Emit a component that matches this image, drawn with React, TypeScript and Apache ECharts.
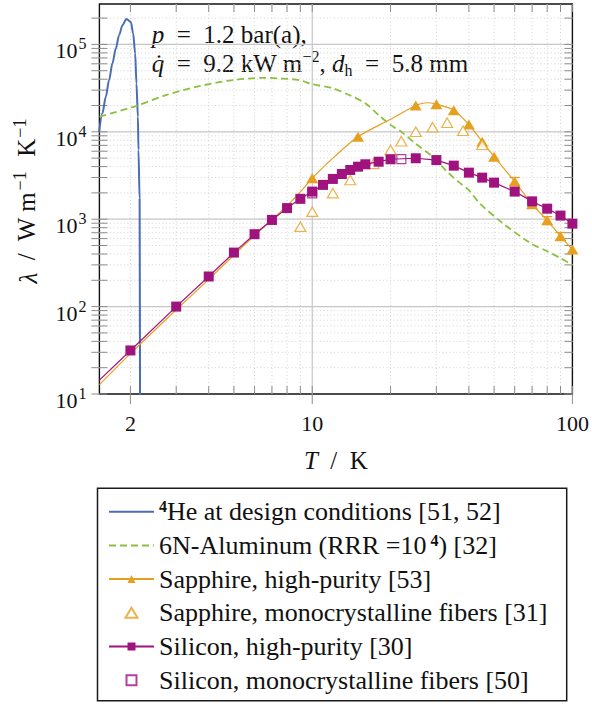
import React, { useEffect, useRef } from 'react';
import * as echarts from 'echarts';

const SERIF = 'Liberation Serif';

// Axis extents
const X_MIN = 1.52;
const X_MAX = 100;
const Y_MIN = 10;
const Y_MAX = 2.9e5;

// Tick / grid values
const xLabelTicks = [2, 10, 100];
const xMinorTicks = [3, 4, 5, 6, 7, 8, 9, 20, 30, 40, 50, 60, 70, 80, 90];
const xMajorGrid = [10];
const xMinorGrid = [2, 3, 4, 5, 6, 7, 8, 9, 20, 30, 40, 50, 60, 70, 80, 90];
const yMajor = [10, 100, 1000, 10000, 100000];
const yMinor = [
  20, 30, 40, 50, 60, 70, 80, 90,
  200, 300, 400, 500, 600, 700, 800, 900,
  2000, 3000, 4000, 5000, 6000, 7000, 8000, 9000,
  20000, 30000, 40000, 50000, 60000, 70000, 80000, 90000,
  200000,
];

// 4He at design conditions
const heT = [1.517, 1.561, 1.609, 1.656, 1.706, 1.758, 1.81, 1.864, 1.931, 2.008, 2.049, 2.086, 2.11, 2.137, 2.148, 2.17, 2.18];
const heK = [1.0e4, 1.63e4, 2.52e4, 3.91e4, 6.07e4, 9.0e4, 1.28e5, 1.66e5, 1.95e5, 1.81e5, 1.34e5, 7.9e4, 3.58e4, 1.49e4, 6.2e3, 1.7e3, 1];

// 6N aluminium
const alT = [1.52, 2.1, 2.74, 3.68, 4.94, 6.65, 7.48, 8.93, 10, 12, 14, 16, 18, 20, 22, 25, 29, 33, 36.4, 40, 44, 54, 69, 80, 90, 100];
const alK = [1.49e4, 1.97e4, 2.63e4, 3.33e4, 3.91e4, 4.15e4, 4.08e4, 3.9e4, 3.5e4, 3.15e4, 2.6e4, 2.12e4, 1.55e4, 1.2e4, 1.0e4, 7.3e3, 5.2e3, 3.5e3, 2.69e3, 2.15e3, 1.52e3, 900, 532, 430, 358, 300];

// Sapphire high purity: fit curve points (no marker) and measured points (marker)
const sapphireFitT = [1.52, 2, 3, 4, 5, 6, 7, 8, 9, 12, 20, 27.5];
const sapphireFitK = [12.8, 29, 92, 205, 390, 650, 990, 1420, 2050, 5000, 1.39e4, 2.15e4];
const sapphireT = [10, 15, 25, 30, 35, 40, 45, 50, 60, 70, 80, 90, 100];
const sapphireK = [2950, 8800, 2.0e4, 2.07e4, 1.77e4, 1.21e4, 7.7e3, 5.2e3, 2.7e3, 1.48e3, 970, 640, 450];

// Sapphire error bars
const sapphireErrT = [60, 70, 80, 90];
const sapphireErrLo = [2450, 1330, 870, 575];
const sapphireErrHi = [3000, 1630, 1070, 705];

// Sapphire monocrystalline fibers
const sapphireFibT = [9, 10, 12, 14, 17.2, 20, 22, 25, 29, 33, 38, 45];
const sapphireFibK = [822, 1220, 1990, 2810, 4300, 6200, 7800, 1.0e4, 1.13e4, 1.27e4, 1.03e4, 7.1e3];

// Silicon high purity
const siliconFitT = [1.52];
const siliconFitK = [14.4];
const siliconT = [2, 3, 4, 5, 6, 7, 8, 9, 10, 11, 12, 13, 14, 15, 16, 18, 20, 25, 30, 35, 40, 45, 50, 60, 70, 80, 90, 100];
const siliconK = [31.5, 100, 221, 415, 674, 981, 1340, 1710, 2070, 2470, 2890, 3290, 3660, 3990, 4250, 4550, 4850, 4980, 4750, 4100, 3410, 2990, 2620, 2070, 1600, 1320, 1100, 890];

// Silicon monocrystalline fibers
const siliconFibT = [10, 22];
const siliconFibK = [1980, 4870];

const BLUE = '#4a6db3';
const GREEN = '#8dc040';
const ORANGE = '#e6a020';
const MAGENTA = '#a0127e';

const LEGEND_LABELS: Record<string, string> = {
  He4: '{sup|4}He at design conditions [51, 52]',
  Al6N: '6N-Aluminum (RRR =10{sup| 4}) [32]',
  SapphireHP: 'Sapphire, high-purity [53]',
  SapphireFib: 'Sapphire, monocrystalline fibers [31]',
  SiliconHP: 'Silicon, high-purity [30]',
  SiliconFib: 'Silicon, monocrystalline fibers [50]',
};

const TRI_ICON = 'path://M6,0 L12,10 L0,10 Z';
const SQ_ICON = 'path://M0,0 L10,0 L10,10 L0,10 Z';

const FS = 25;
const LFS = 26;
const SUP_FS = 18;

// y-axis title pieces
const Y_TITLE_SYM = 'λ';
const Y_TITLE_MID = '  /  W m';
const Y_TITLE_K = '  K';
const Y_TITLE_EXP = '−1';

const pairs = (a: number[], b: number[]) => a.map((t, i) => [t, b[i]]);

function withMarkers(fitT: number[], fitK: number[], t: number[], k: number[]) {
  const d: any[] = [
    ...fitT.map((x, i) => ({ value: [x, fitK[i]], symbol: 'none' })),
    ...t.map((x, i) => ({ value: [x, k[i]] })),
  ];
  d.sort((a, b) => a.value[0] - b.value[0]);
  return d;
}

function measure(txt: string, font: string) {
  const c = document.createElement('canvas').getContext('2d');
  if (!c) return txt.length * 10;
  c.font = font;
  return c.measureText(txt).width;
}

export default function App() {
  const ref = useRef<HTMLDivElement>(null);
  useEffect(() => {
    const chart = echarts.init(ref.current as HTMLDivElement, null, { renderer: 'svg' });

    const minorGrid = { stroke: '#d2d2d2', lineWidth: 1, lineDash: [1, 2.5] };
    const majorGrid = { stroke: '#c6c6c6', lineWidth: 1.2 };
    const tickStyle = { stroke: '#8c8c8c', lineWidth: 1 };

    const fam = `"${SERIF}"`;
    const supPad = 3;
    const yTitleWidth =
      measure(Y_TITLE_SYM, `italic ${FS}px ${fam}`) +
      measure(Y_TITLE_MID, `${FS}px ${fam}`) +
      measure(Y_TITLE_K, `${FS}px ${fam}`) +
      2 * (measure(Y_TITLE_EXP, `${SUP_FS}px ${fam}`) + supPad);

    const decorations = {
      type: 'custom',
      coordinateSystem: 'cartesian2d',
      silent: true,
      z: 1,
      data: [[10, 100]],
      renderItem: (params: any, api: any) => {
        const cs = params.coordSys;
        const x0 = cs.x, x1 = cs.x + cs.width, y0 = cs.y, y1 = cs.y + cs.height;
        const children: any[] = [];
        const ln = (xa: number, ya: number, xb: number, yb: number, style: any) =>
          children.push({ type: 'line', shape: { x1: xa, y1: ya, x2: xb, y2: yb }, style });
        xMinorGrid.forEach((v) => { const p = api.coord([v, Y_MIN])[0]; ln(p, y0, p, y1, minorGrid); });
        xMajorGrid.forEach((v) => { const p = api.coord([v, Y_MIN])[0]; ln(p, y0, p, y1, majorGrid); });
        yMinor.forEach((v) => { const p = api.coord([X_MIN, v])[1]; ln(x0, p, x1, p, minorGrid); });
        yMajor.forEach((v) => { if (v > Y_MIN) { const p = api.coord([X_MIN, v])[1]; ln(x0, p, x1, p, majorGrid); } });
        xMinorTicks.forEach((v) => {
          const p = api.coord([v, Y_MIN])[0];
          ln(p, y1, p, y1 - 8, tickStyle);
          ln(p, y0, p, y0 + 8, tickStyle);
        });
        xLabelTicks.forEach((v) => {
          const p = api.coord([v, Y_MIN])[0];
          ln(p, y1 - 8, p, y1 + 10, tickStyle);
          ln(p, y0, p, y0 + 8, tickStyle);
        });
        [...yMinor, ...yMajor].forEach((v) => {
          const p = api.coord([X_MIN, v])[1];
          ln(x0 - 8, p, x0 + 8, p, tickStyle);
          ln(x1 - 8, p, x1, p, tickStyle);
        });
        return { type: 'group', children };
      },
    };

    const errorBars = {
      type: 'custom',
      coordinateSystem: 'cartesian2d',
      silent: true,
      z: 3,
      data: sapphireErrT.map((t, i) => [t, sapphireErrLo[i], sapphireErrHi[i]]),
      encode: { x: 0, y: [1, 2] },
      renderItem: (params: any, api: any) => {
        const lo = api.coord([api.value(0), api.value(1)]);
        const hi = api.coord([api.value(0), api.value(2)]);
        const st = { stroke: ORANGE, lineWidth: 1.3 };
        return {
          type: 'group',
          children: [
            { type: 'line', shape: { x1: lo[0], y1: lo[1], x2: hi[0], y2: hi[1] }, style: st },
            { type: 'line', shape: { x1: lo[0] - 5, y1: lo[1], x2: lo[0] + 5, y2: lo[1] }, style: st },
            { type: 'line', shape: { x1: hi[0] - 5, y1: hi[1], x2: hi[0] + 5, y2: hi[1] }, style: st },
          ],
        };
      },
    };

    const option: any = {
      animation: false,
      backgroundColor: '#fff',
      textStyle: { fontFamily: SERIF },
      grid: {
        left: 99.4,
        top: 4,
        width: 473,
        height: 390,
        show: true,
        borderColor: '#111',
        borderWidth: 1.4,
        backgroundColor: 'transparent',
        containLabel: false,
        outerBoundsMode: 'none',
      },
      xAxis: {
        type: 'log',
        logBase: 10,
        min: X_MIN,
        max: X_MAX,
        axisLine: { show: false },
        axisTick: { show: false },
        splitLine: { show: false },
        minorTick: { show: false },
        axisLabel: {
          customValues: xLabelTicks,
          margin: 18,
          fontFamily: SERIF,
          fontSize: 22,
          color: '#111',
          formatter: (v: number) => String(Math.round(v)),
        },
        name: '{i|T}  /  K',
        nameLocation: 'middle',
        nameGap: 54,
        nameTextStyle: {
          fontFamily: SERIF,
          fontSize: FS,
          color: '#111',
          rich: { i: { fontFamily: SERIF, fontSize: FS, fontStyle: 'italic', color: '#111' } },
        },
      },
      yAxis: {
        type: 'log',
        logBase: 10,
        min: Y_MIN,
        max: Y_MAX,
        axisLine: { show: false },
        axisTick: { show: false },
        splitLine: { show: false },
        minorTick: { show: false },
        axisLabel: {
          customValues: yMajor,
          margin: 13,
          fontFamily: SERIF,
          formatter: (v: number) => `{b|10}{s|${Math.round(Math.log10(v))}}`,
          rich: {
            b: { fontFamily: SERIF, fontSize: 22, color: '#111', lineHeight: 26, verticalAlign: 'bottom' },
            s: { fontFamily: SERIF, fontSize: 16, color: '#111', lineHeight: 16, verticalAlign: 'top', padding: [0, 0, 0, 1] },
          },
          padding: [9, 0, 0, 0],
        },
      },
      legend: {
        orient: 'vertical',
        left: 97.5,
        top: 488.3,
        padding: [10.4, 0, 7.7, 10.5],
        borderWidth: 0,
        itemWidth: 45,
        itemHeight: 10,
        itemGap: 7.7,
        selectedMode: false,
        data: [
          { name: 'He4', itemStyle: { opacity: 0 } },
          { name: 'Al6N', itemStyle: { opacity: 0 } },
          { name: 'SapphireHP' },
          { name: 'SapphireFib', icon: TRI_ICON },
          { name: 'SiliconHP' },
          { name: 'SiliconFib', icon: SQ_ICON },
        ],
        formatter: (name: string) => LEGEND_LABELS[name],
        textStyle: {
          fontFamily: SERIF,
          fontSize: LFS,
          color: '#111',
          lineHeight: 26,
          rich: {
            sup: { fontFamily: SERIF, fontSize: 16, fontWeight: 'bold', verticalAlign: 'top', lineHeight: 26, color: '#111' },
          },
        },
      },
      graphic: [
        {
          type: 'rect',
          silent: true,
          shape: { x: 97.5, y: 488.3, width: 469.2, height: 212.4 },
          style: { fill: 'none', stroke: '#1a1a1a', lineWidth: 1.5 },
        },
        {
          type: 'text',
          x: 26,
          y: 200 + yTitleWidth / 2,
          rotation: Math.PI / 2,
          silent: true,
          style: {
            text: `{i|${Y_TITLE_SYM}}${Y_TITLE_MID}{s|${Y_TITLE_EXP}}${Y_TITLE_K}{s|${Y_TITLE_EXP}}`,
            fontFamily: SERIF,
            fontSize: FS,
            fill: '#111',
            align: 'left',
            verticalAlign: 'middle',
            rich: {
              i: { fontFamily: SERIF, fontSize: FS, fontStyle: 'italic', fill: '#111', lineHeight: 30, verticalAlign: 'bottom' },
              s: { fontFamily: SERIF, fontSize: SUP_FS, fill: '#111', lineHeight: 18, verticalAlign: 'top', padding: [0, 2, 0, 1] },
            },
          },
        },
        {
          type: 'text',
          x: 151.7,
          y: 34,
          silent: true,
          style: {
            text: '{i|p}  =  1.2 bar(a),',
            fontFamily: SERIF,
            fontSize: FS,
            fill: '#111',
            verticalAlign: 'middle',
            rich: { i: { fontFamily: SERIF, fontSize: FS, fontStyle: 'italic', fill: '#111' } },
          },
        },
        {
          type: 'text',
          x: 151.7,
          y: 63,
          silent: true,
          style: {
            text: '{i|q̇}  =  9.2 kW m{s|−2}, {i|d}{sub|h}  =  5.8 mm',
            fontFamily: SERIF,
            fontSize: FS,
            fill: '#111',
            verticalAlign: 'middle',
            rich: {
              i: { fontFamily: SERIF, fontSize: FS, fontStyle: 'italic', fill: '#111', lineHeight: 30, verticalAlign: 'middle' },
              s: { fontFamily: SERIF, fontSize: 16, fill: '#111', lineHeight: 16, verticalAlign: 'top' },
              sub: { fontFamily: SERIF, fontSize: 16, fill: '#111', lineHeight: 16, verticalAlign: 'bottom' },
            },
          },
        },
      ],
      series: [
        decorations,
        {
          name: 'He4',
          type: 'line',
          data: pairs(heT, heK),
          symbol: 'none',
          smooth: 0.3,
          smoothMonotone: 'x',
          clip: true,
          color: BLUE,
          lineStyle: { color: BLUE, width: 2 },
          z: 4,
        },
        {
          name: 'Al6N',
          type: 'line',
          data: pairs(alT, alK),
          symbol: 'none',
          smooth: 0.3,
          clip: true,
          color: GREEN,
          lineStyle: { color: GREEN, width: 1.8, type: [7, 4] },
          z: 4,
        },
        errorBars,
        {
          name: 'SapphireHP',
          type: 'line',
          data: withMarkers(sapphireFitT, sapphireFitK, sapphireT, sapphireK),
          symbol: 'triangle',
          symbolSize: [12, 10],
          smooth: 0.3,
          clip: true,
          color: ORANGE,
          itemStyle: { color: ORANGE },
          lineStyle: { color: ORANGE, width: 1.2 },
          z: 5,
        },
        {
          name: 'SapphireFib',
          type: 'scatter',
          data: pairs(sapphireFibT, sapphireFibK),
          symbol: 'triangle',
          symbolSize: [11, 9.5],
          color: ORANGE,
          itemStyle: { color: '#fff', borderColor: ORANGE, borderWidth: 1.2 },
          z: 5,
        },
        {
          name: 'SiliconHP',
          type: 'line',
          data: withMarkers(siliconFitT, siliconFitK, siliconT, siliconK),
          symbol: 'rect',
          symbolSize: 10,
          clip: true,
          color: MAGENTA,
          itemStyle: { color: MAGENTA },
          lineStyle: { color: MAGENTA, width: 1.2 },
          z: 6,
        },
        {
          name: 'SiliconFib',
          type: 'scatter',
          data: pairs(siliconFibT, siliconFibK),
          symbol: 'rect',
          symbolSize: 9,
          color: MAGENTA,
          itemStyle: { color: 'rgba(255,255,255,0)', borderColor: MAGENTA, borderWidth: 1.2 },
          z: 7,
        },
      ],
    };

    chart.setOption(option);
    return () => chart.dispose();
  }, []);

  return (
    <div
      ref={ref}
      style={{ position: 'fixed', left: 0, top: 0, width: 592, height: 704, background: '#fff' }}
    />
  );
}
